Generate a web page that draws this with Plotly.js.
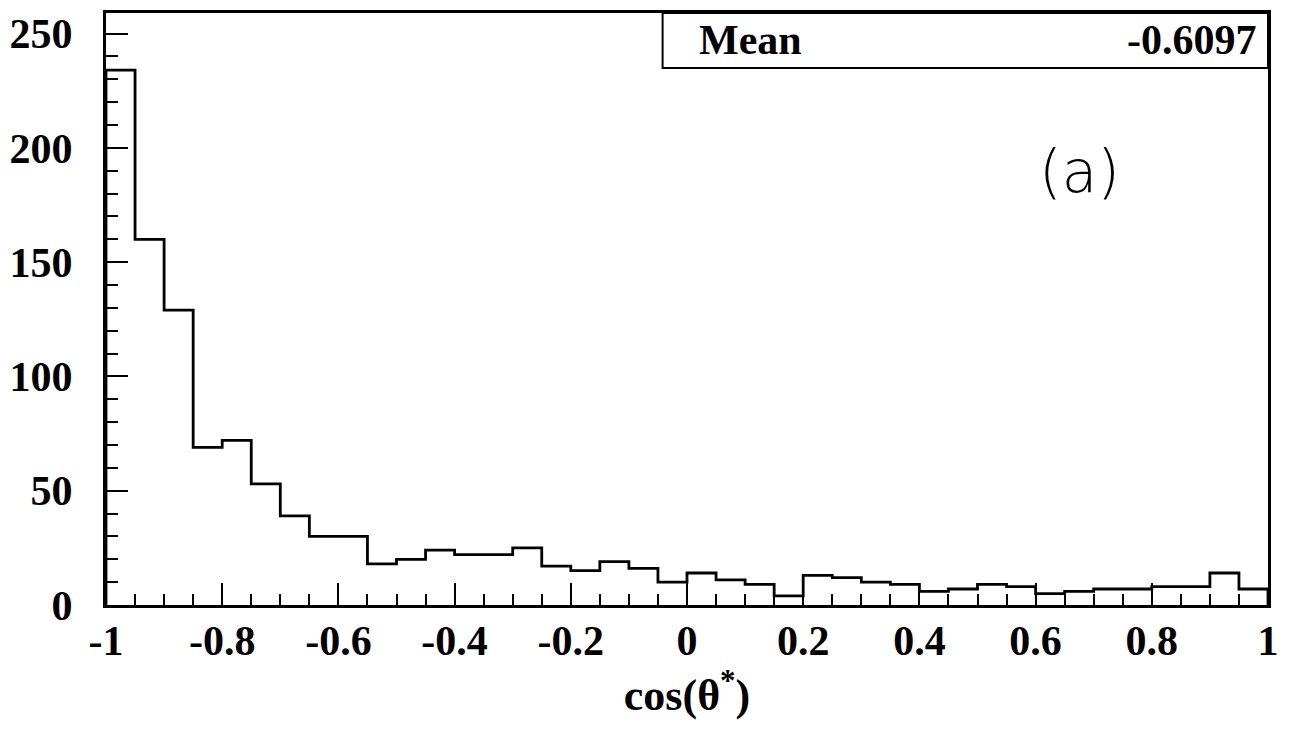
<!DOCTYPE html>
<html>
<head>
<meta charset="utf-8">
<script src="https://cdn.plot.ly/plotly-3.0.1.min.js"></script>
<style>
html,body{margin:0;padding:0;background:#fff;}
#chart{width:1301px;height:735px;}
</style>
</head>
<body>
<div id="chart"></div>
<script>
// Bin lower edges of cos(theta*) histogram (40 bins, width 0.05)
const binLow = [-1.00,-0.95,-0.90,-0.85,-0.80,-0.75,-0.70,-0.65,-0.60,-0.55,
                -0.50,-0.45,-0.40,-0.35,-0.30,-0.25,-0.20,-0.15,-0.10,-0.05,
                 0.00, 0.05, 0.10, 0.15, 0.20, 0.25, 0.30, 0.35, 0.40, 0.45,
                 0.50, 0.55, 0.60, 0.65, 0.70, 0.75, 0.80, 0.85, 0.90, 0.95];
const binHigh = 1.00;
// Entries per bin
const counts = [234,160,129,69,72,53,39,30,30,18,
                20,24,22,22,25,17,15,19,16,10,
                14,11,9,4,13,12,10,9,6,7,
                9,8,5,6,7,7,8,8,14,7];
const xTickVals = [-1,-0.8,-0.6,-0.4,-0.2,0,0.2,0.4,0.6,0.8,1];
const xTickText = ["-1","-0.8","-0.6","-0.4","-0.2","0","0.2","0.4","0.6","0.8","1"];
const yTickVals = [0,50,100,150,200,250];
const yTickText = ["0","50","100","150","200","250"];
const statLabel = "Mean";
const statValue = "-0.6097";
const panelLabel = "(a)";
const xTitle = "cos(θ<sup>*</sup>)";

const stepX = [binLow[0]].concat(binLow, [binHigh, binHigh]);
const stepY = [0].concat(counts, [counts[counts.length-1], 0]);

const serif = "Liberation Serif, Times New Roman, serif";

const trace = {
  type: 'scatter', mode: 'lines',
  x: stepX, y: stepY,
  line: {shape: 'hv', color: '#000', width: 2.8},
  hoverinfo: 'skip', showlegend: false
};

const layout = {
  width: 1301, height: 735,
  margin: {l: 106, r: 33, t: 13, b: 130},
  paper_bgcolor: '#fff', plot_bgcolor: '#fff',
  showlegend: false,
  xaxis: {
    range: [-1, 1],
    showline: true, mirror: true, linecolor: '#000', linewidth: 3,
    showgrid: false, zeroline: false,
    ticks: 'inside', ticklen: 22, tickwidth: 2, tickcolor: '#000',
    tickvals: xTickVals, ticktext: xTickText,
    tickfont: {family: serif, size: 42, color: '#000', weight: 'bold'},
    ticklabelstandoff: -3,
    minor: {dtick: 0.05, ticks: 'inside', ticklen: 11, tickwidth: 2, tickcolor: '#000', showgrid: false},
    title: {text: xTitle, font: {family: serif, size: 44, color: '#000', weight: 'bold'}, standoff: 4}
  },
  yaxis: {
    range: [0, 259],
    showline: true, mirror: true, linecolor: '#000', linewidth: 3,
    showgrid: false, zeroline: false,
    ticks: 'inside', ticklen: 22, tickwidth: 2, tickcolor: '#000',
    tickvals: yTickVals, ticktext: yTickText,
    tickfont: {family: serif, size: 42, color: '#000', weight: 'bold'},
    ticklabelstandoff: 22,
    minor: {dtick: 10, ticks: 'inside', ticklen: 12, tickwidth: 2, tickcolor: '#000', showgrid: false}
  },
  shapes: [{
    type: 'rect', xref: 'paper', yref: 'paper',
    x0: 0.479, x1: 1, y0: 0.907, y1: 1,
    line: {color: '#000', width: 2}, fillcolor: '#fff', layer: 'above'
  }],
  annotations: [
    {xref: 'paper', yref: 'paper', x: 0.5086, y: 0.955, xanchor: 'left', yanchor: 'middle',
     text: statLabel, showarrow: false,
     font: {family: serif, size: 42, color: '#000', weight: 'bold'}},
    {xref: 'paper', yref: 'paper', x: 0.992, y: 0.955, xanchor: 'right', yanchor: 'middle',
     text: statValue, showarrow: false,
     font: {family: serif, size: 42, color: '#000', weight: 'bold'}},
    {xref: 'paper', yref: 'paper', x: 0.838, y: 0.731, xanchor: 'center', yanchor: 'middle',
     text: panelLabel, showarrow: false,
     font: {family: 'DejaVu Sans, sans-serif', size: 58, color: '#000', weight: 300}}
  ]
};

Plotly.newPlot('chart', [trace], layout, {staticPlot: true, displayModeBar: false});
</script>
</body>
</html>
